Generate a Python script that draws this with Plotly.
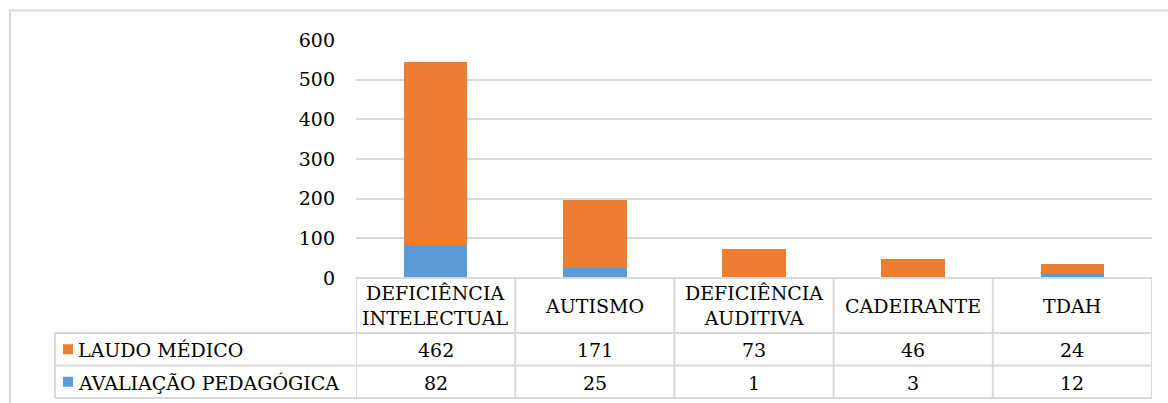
import plotly.graph_objects as go

categories = ["DEFICIÊNCIA<br>INTELECTUAL", "AUTISMO", "DEFICIÊNCIA<br>AUDITIVA", "CADEIRANTE", "TDAH"]
series_names = ["LAUDO MÉDICO", "AVALIAÇÃO PEDAGÓGICA"]
laudo_medico = [462, 171, 73, 46, 24]
avaliacao_pedagogica = [82, 25, 1, 3, 12]
y_ticks = [0, 100, 200, 300, 400, 500, 600]

ORANGE = "#ED7D31"
BLUE = "#5B9BD5"
GRID = "#D9D9D9"
FONT = "DejaVu Serif"
FS = 19

W, H = 1168, 403
L, R, T, B = 356, 1152, 40, 278  # plot area in px


def px(x):
    return (x - L) / (R - L)


def py(y):
    return (B - y) / (B - T)


xidx = list(range(len(categories)))

fig = go.Figure()
fig.add_trace(go.Bar(x=xidx, y=avaliacao_pedagogica, name=series_names[1],
                     marker=dict(color=BLUE, line=dict(width=0)), width=0.4))
fig.add_trace(go.Bar(x=xidx, y=laudo_medico, name=series_names[0],
                     marker=dict(color=ORANGE, line=dict(width=0)), width=0.4))

shapes = []
annotations = []

# outer chart border
shapes.append(dict(type="rect", xref="paper", yref="paper",
                   x0=px(10), x1=px(1200), y0=py(430), y1=py(10.5),
                   line=dict(color=GRID, width=2), layer="below"))

# table geometry (px)
header_top, header_bot = 278, 333
row_bots = [365.5, 398]
left_edge = 55
n = len(categories)

line_style = dict(color=GRID, width=2)
# horizontal lines
shapes.append(dict(type="line", xref="paper", yref="paper", x0=0, x1=1,
                   y0=py(header_top), y1=py(header_top), line=line_style))
for yy in [header_bot] + row_bots:
    shapes.append(dict(type="line", xref="paper", yref="paper", x0=px(left_edge), x1=1,
                       y0=py(yy), y1=py(yy), line=line_style))
# vertical lines (category boundaries via x axis)
for i in range(n + 1):
    shapes.append(dict(type="line", xref="x", yref="paper", x0=i - 0.5, x1=i - 0.5,
                       y0=py(header_top), y1=py(row_bots[-1]), line=line_style))
shapes.append(dict(type="line", xref="paper", yref="paper", x0=px(left_edge), x1=px(left_edge),
                   y0=py(header_bot), y1=py(row_bots[-1]), line=line_style))

# category header labels
for i, c in enumerate(categories):
    annotations.append(dict(x=i, xref="x", y=py((header_top + header_bot) / 2), yref="paper",
                            text=c, showarrow=False, font=dict(family=FONT, size=FS, color="#000"),
                            xanchor="center", yanchor="middle", align="center"))

# rows
row_centers = [(header_bot + row_bots[0]) / 2, (row_bots[0] + row_bots[1]) / 2]
rows = [(series_names[0], laudo_medico, ORANGE), (series_names[1], avaliacao_pedagogica, BLUE)]
for (name, vals, col), yc in zip(rows, row_centers):
    shapes.append(dict(type="rect", xref="paper", yref="paper",
                       x0=px(63), x1=px(73), y0=py(yc - 5), y1=py(yc + 5),
                       fillcolor=col, line=dict(width=0)))
    annotations.append(dict(x=px(76), xref="paper", y=py(yc + 1), yref="paper", text=name,
                            showarrow=False, xanchor="left", yanchor="middle",
                            font=dict(family=FONT, size=FS, color="#000")))
    for i, v in enumerate(vals):
        annotations.append(dict(x=i, xref="x", y=py(yc + 1), yref="paper", text=str(v),
                                showarrow=False, xanchor="center", yanchor="middle",
                                font=dict(family=FONT, size=FS, color="#000")))

fig.update_layout(
    width=W, height=H,
    margin=dict(l=L, r=W - R, t=T, b=H - B, pad=0),
    paper_bgcolor="white", plot_bgcolor="white",
    barmode="stack", bargap=0.6,
    showlegend=False,
    shapes=shapes, annotations=annotations,
    xaxis=dict(range=[-0.5, n - 0.5], showticklabels=False, showgrid=False,
               zeroline=False, showline=False, ticks=""),
    yaxis=dict(range=[0, 600], tickvals=y_ticks, showgrid=True, gridcolor=GRID, gridwidth=2,
               zeroline=False, showline=False, ticks="",
               tickfont=dict(family=FONT, size=FS, color="#000"), ticklabelstandoff=20),
    font=dict(family=FONT, size=FS, color="#000"),
)

fig.write_html("out.html")
